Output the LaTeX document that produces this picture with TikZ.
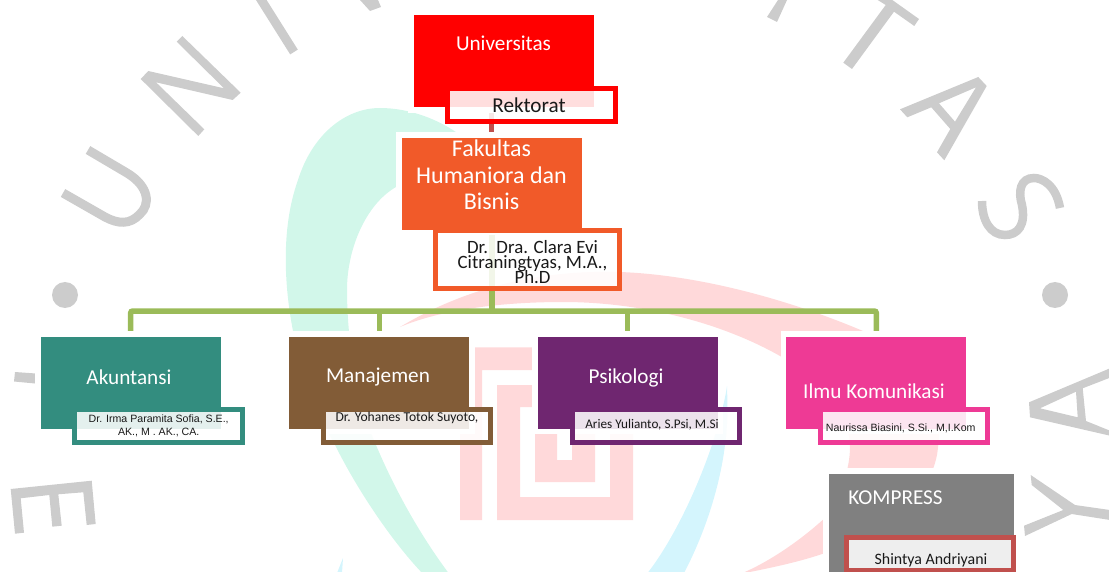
\documentclass[tikz,border=0pt]{standalone}
\usepackage{fontspec}
\setmainfont{Carlito}
\newfontfamily\arialf{Liberation Sans}
\usetikzlibrary{calc}
\pgfdeclarelayer{wm}
\pgfdeclarelayer{conn}
\pgfsetlayers{wm,conn,main}
\definecolor{wmgrey}{HTML}{CCCCCC}
\definecolor{wmpink}{HTML}{FFD9DA}
\definecolor{wmteal}{HTML}{D2F7EA}
\definecolor{wmcyan}{HTML}{D4F5FD}
\definecolor{cOrange}{HTML}{F15A29}
\definecolor{cTeal}{HTML}{338D7F}
\definecolor{cBrown}{HTML}{825C37}
\definecolor{cPurple}{HTML}{6F2670}
\definecolor{cPink}{HTML}{EE3A95}
\definecolor{cGrey}{HTML}{808080}
\definecolor{cGreen}{HTML}{9BBB59}
\definecolor{cBrick}{HTML}{C0504D}
\newcommand{\tightlines}{\lineskiplimit=-100pt\relax}
\tikzset{
  x=1pt,y=-1pt,
  mainbox/.style={rectangle,inner sep=0,outer sep=0,fill=#1,minimum width=180,minimum height=92,
     preaction={draw=white,line width=11}},
  subbox/.style={rectangle,inner sep=0,outer sep=0,draw=#1,line width=5,fill=white,fill opacity=.87,
     draw opacity=1,minimum width=167.4,minimum height=33},
  head/.style={text=white,font=\fontsize{21.2}{26.5}\selectfont,inner sep=0,align=center},
  name text/.style={text=black!90,inner sep=0,align=center},
  small arial/.style={text=black!90,font=\arialf\fontsize{10.6}{13.6}\selectfont,inner sep=0,align=center},
  bus/.style={draw=cGreen,line width=5.5},
  wmline/.style={draw=wmgrey,line width=9,miter limit=10},
}
\begin{document}
\begin{tikzpicture}
\useasboundingbox (0,0) rectangle (1109,572);
% ---- boxes
\node[mainbox=red] (uni) at (503.5,61.5) {};
\node[mainbox=cOrange] (fak) at (491.5,184) {};
\node[mainbox=cTeal] (akun) at (130.7,382.5) {};
\node[mainbox=cBrown] (man) at (379.3,382.5) {};
\node[mainbox=cPurple] (psi) at (627.7,382.5) {};
\node[mainbox=cPink] (ilmu) at (876.3,382.5) {};
\node[mainbox=cGrey,minimum width=185.3,minimum height=105] (kom) at (921.3,526.2) {};
\node[subbox=red] (rek) at (531.3,105) {};
\node[subbox=cOrange,minimum width=183.7,minimum height=58] (cla) at (527.3,259.2) {};
\node[subbox=cTeal] (sakun) at (158.5,426) {};
\node[subbox=cBrown] (sman) at (407,426) {};
\node[subbox=cPurple] (spsi) at (655.7,426) {};
\node[subbox=cPink] (silmu) at (904.2,426) {};
\node[subbox=cBrick,minimum width=167.3,minimum height=33] (skom) at (930.2,554.3) {};
% ---- texts
\node[head] (tuni) at (503.5,43) {Universitas};
\node[head,font=\fontsize{24}{26.5}\selectfont\tightlines] (tfak) at (491.5,175) {Fakultas\\Humaniora dan\\Bisnis};
\node[head] (takun) at (129,377.5) {Akuntansi};
\node[head] (tman) at (378,377.5) {Manajemen};
\node[head] (tpsi) at (626,377.5) {Psikologi};
\node[head] (tilmu) at (874,391) {Ilmu Komunikasi};
\node[head] (tkom) at (895.5,497.5) {KOMPRESS};
\node[name text,font=\fontsize{21.2}{26}\selectfont] (trek) at (529,105) {Rektorat};
\node[name text,font=\fontsize{18.8}{15}\selectfont\tightlines] (tcla) at (532.5,262) {Dr.\ \ Dra. Clara Evi\\Citraningtyas, M.A.,\\Ph.D};
\node[small arial] (tsakun) at (158.7,426) {Dr. Irma Paramita Sofia, S.E.,\\AK., M . AK., CA.};
\node[name text,font=\fontsize{13.6}{14}\selectfont] (tsman) at (407,418) {Dr. Yohanes Totok Suyoto,};
\node[name text,font=\fontsize{13.2}{14}\selectfont] (tspsi) at (652,425) {Aries Yulianto, S.Psi, M.Si};
\node[small arial] (tsilmu) at (900.7,428) {Naurissa Biasini, S.Si., M,I.Kom};
\node[name text,font=\fontsize{15.9}{16}\selectfont] (tskom) at (931,560) {Shintya Andriyani};
% ---- connectors
\begin{pgfonlayer}{conn}
\coordinate (hub) at (fak.south |- 0,311);
\draw[draw=cBrick,line width=5.5] (fak.north) -- (fak.north |- uni.south);
\draw[draw=cGreen,line width=6] (fak.south) -- (hub);
\draw[bus,rounded corners=2] (akun.north) |- (hub) -| (ilmu.north);
\draw[bus] (man.north) -- (man.north |- hub);
\draw[bus] (psi.north) -- (psi.north |- hub);
\end{pgfonlayer}
% ---- watermark
\begin{pgfonlayer}{wm}
\clip (0,0) rectangle (1109,572);
% pink ring
\fill[wmpink] (400,327) .. controls (470,285) and (545,270) .. (620,272)
  .. controls (700,275) and (790,300) .. (863,331)
  .. controls (915,365) and (945,410) .. (938,447)
  .. controls (935,490) and (890,535) .. (828,552)
  .. controls (800,562) and (770,568) .. (740,574)
  .. controls (770,562) and (805,537) .. (828,515)
  .. controls (840,495) and (850,470) .. (850,447)
  .. controls (850,420) and (830,385) .. (780,356)
  .. controls (720,322) and (640,302) .. (563,302)
  .. controls (500,302) and (440,310) .. (400,327) -- cycle;
% teal crescent
\fill[wmteal] (424,575) .. controls (395,545) and (360,495) .. (335,445)
  .. controls (310,400) and (300,370) .. (293,331)
  .. controls (285,290) and (280,230) .. (298,180)
  .. controls (312,135) and (345,108) .. (380,108)
  .. controls (410,108) and (440,120) .. (460,135)
  -- (396,187) .. controls (365,205) and (347,250) .. (347,290)
  .. controls (347,350) and (360,410) .. (376,445)
  .. controls (395,490) and (420,535) .. (450,575) -- cycle;
% cyan crescent
\fill[wmcyan] (727,386) .. controls (728,415) and (727,430) .. (725,445)
  .. controls (722,470) and (712,520) .. (683,575)
  -- (646,575) .. controls (670,545) and (695,495) .. (712,445)
  .. controls (720,420) and (725,400) .. (727,386) -- cycle;
\fill[wmcyan] (337,573) -- (343,558) -- (342,573) -- cycle;
% spiral
\fill[wmpink] (460,347.3) -- (533,347.3) -- (533,370) -- (482,370) -- (482,520) -- (460,520) -- cycle;
\fill[wmpink] (497,385) -- (533,385) -- (533,407) -- (520,407) -- (520,497) -- (610,497) -- (610,430)
  -- (633,430) -- (633,520) -- (497,520) -- cycle;
\fill[wmpink] (535,434) -- (557,434) -- (557,460) -- (572,460) -- (572,430) -- (595,430) -- (595,482) -- (535,482) -- cycle;
% letters
\draw[wmline,line cap=butt] (88,150) -- (127,173) .. controls (150,187) and (150,205) .. (140,214)
   .. controls (130,225) and (118,224) .. (105,217) -- (63,193);
\fill[wmgrey] (182.3,36) -- (240.7,92.7) -- (232.7,100) -- (156,82.3) -- (204.3,129.3) -- (198.3,136)
  -- (140.7,79) -- (148.3,71) -- (224,88.3) -- (176.7,41.7) -- cycle;
\draw[wmline] (255,-10) -- (294,52);
\fill[wmgrey] (360,0) -- (370,11) -- (381,7) -- (378,0) -- cycle;
\fill[wmgrey] (778,0) -- (787,0) -- (777,22) -- (767,17) -- cycle;
\fill[wmgrey] (843.3,62.7) -- (885.7,5) -- (877.7,0) -- (892.3,0) -- (919,19) -- (914.3,26)
  -- (894,11.7) -- (852,69) -- cycle;
\fill[wmgrey,even odd rule] (900,109.3) -- (978.3,77) -- (986.7,86) -- (944.3,160.3) -- (937,152.3)
  -- (950.3,129) -- (931.3,107.3) -- (907.3,117.3) -- cycle
  (939,103.3) -- (955,121.7) -- (976,87.3) -- cycle;
\draw[wmline,line width=8.5] (1060,208) .. controls (1056,185) and (1042,178) .. (1034,178)
  .. controls (1020,178) and (1018,192) .. (1022,205)
  .. controls (1026,225) and (1018,235) .. (1005,235)
  .. controls (990,235) and (982,220) .. (982,201);
\fill[wmgrey] (65,295) circle[radius=13];
\fill[wmgrey] (1055,295) circle[radius=13];
\fill[wmgrey] (15,372) -- (36,373.5) -- (35,383.5) -- (14,381.5) -- cycle;
\fill[wmgrey] (10.7,489) -- (91.7,480.7) -- (95.7,524) -- (86.7,525) -- (83.3,492.3) -- (58.3,494.3)
  -- (61.7,525.7) -- (52.3,526.7) -- (49.3,495) -- (20.7,498.3) -- (24,532.7) -- (15,533.7) -- cycle;
\fill[wmgrey,even odd rule] (1110,368.3) -- (1029,402.3) -- (1030,417.3) -- (1110,435.7) -- (1110,430.7)
  -- (1086,421) -- (1082.7,388.3) -- (1110,377.7) -- cycle
  (1076,391.7) -- (1077.7,417.3) -- (1040,408.3) -- cycle;
\fill[wmgrey] (1030.7,475) -- (1075,505) -- (1110,510) -- (1110,520) -- (1071.7,514) -- (1025,536)
  -- (1024,525.7) -- (1063.3,510) -- (1031.7,485) -- cycle;
\end{pgfonlayer}
\end{tikzpicture}
\end{document}
